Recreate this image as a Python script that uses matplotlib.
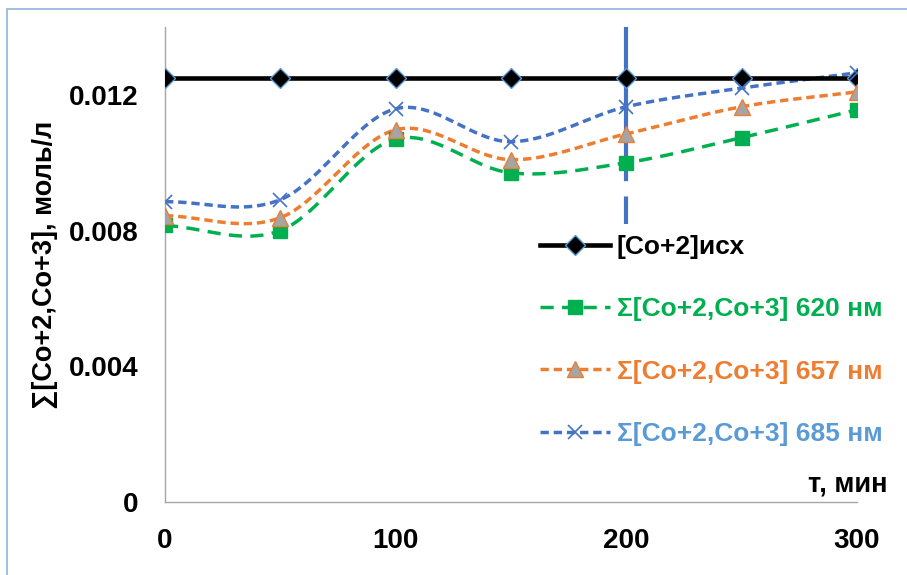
import matplotlib
matplotlib.use("Agg")
import matplotlib.pyplot as plt
import numpy as np
from matplotlib.patches import Rectangle

plt.rcParams['font.family'] = ['Liberation Sans', 'DejaVu Sans']
plt.rcParams['font.weight'] = 'bold'
plt.rcParams['lines.scale_dashes'] = False

# time, min
t = [0, 50, 100, 150, 200, 250, 300]

# concentrations, mol/l
co_init = [0.0125, 0.0125, 0.0125, 0.0125, 0.0125, 0.0125, 0.0125]
sum_620 = [0.00815, 0.00800, 0.01070, 0.00970, 0.01000, 0.01074, 0.01156]
sum_657 = [0.00844, 0.00838, 0.01097, 0.01009, 0.01085, 0.01165, 0.01209]
sum_685 = [0.00885, 0.00891, 0.01159, 0.01062, 0.01165, 0.01220, 0.01265]

labels = ['[Co+2]исх', 'Σ[Co+2,Co+3] 620 нм', 'Σ[Co+2,Co+3] 657 нм', 'Σ[Co+2,Co+3] 685 нм']
text_colors = ['black', '#00B050', '#ED7D31', '#5B9BD5']


def smooth(x, y, n=40):
    # catmull-rom curve through the points, like excel "smoothed line"
    x = np.asarray(x, float)
    y = np.asarray(y, float)
    px = np.concatenate([[2 * x[0] - x[1]], x, [2 * x[-1] - x[-2]]])
    py = np.concatenate([[2 * y[0] - y[1]], y, [2 * y[-1] - y[-2]]])
    xs, ys = [], []
    s = np.linspace(0, 1, n)
    for i in range(1, len(px) - 2):
        for p, out in ((px, xs), (py, ys)):
            p0, p1, p2, p3 = p[i - 1], p[i], p[i + 1], p[i + 2]
            out.extend(0.5 * (2 * p1 + (-p0 + p2) * s
                              + (2 * p0 - 5 * p1 + 4 * p2 - p3) * s ** 2
                              + (-p0 + 3 * p1 - 3 * p2 + p3) * s ** 3))
    return xs, ys


fig = plt.figure(figsize=(9.07, 5.75), dpi=100)
ax = fig.add_axes([165 / 907, 1 - 502 / 575, 692 / 907, 475 / 575])

# vertical marker line at 200 min
ax.plot([200, 200], [0.014, 0.0082], color='#4472C4', lw=3, dashes=(111, 11), zorder=1)

ax.plot(t, co_init, color='black', lw=3.3, marker='D', ms=10.5, mfc='black',
        mec='#5B9BD5', mew=1, label=labels[0], zorder=3)

xs, ys = smooth(t, sum_620)
ax.plot(xs, ys, color='#00B050', lw=2.5, dashes=(9.5, 6), zorder=2)
ax.plot(t, sum_620, ls='none', marker='s', ms=10, color='#00B050', zorder=4)

xs, ys = smooth(t, sum_657)
ax.plot(xs, ys, color='#ED7D31', lw=2.5, dashes=(6, 3.5), zorder=2)
ax.plot(t, sum_657, ls='none', marker='^', ms=11, mfc='#A5A5A5', mec='#ED7D31',
        mew=1, zorder=4)

xs, ys = smooth(t, sum_685)
ax.plot(xs, ys, color='#4472C4', lw=2.5, dashes=(6, 3.5), zorder=2)
ax.plot(t, sum_685, ls='none', marker='x', ms=9.5, mew=1.2, color='#4472C4', zorder=4)

# legend handles
h1, = ax.plot([], [], color='black', lw=3.3, marker='D', ms=10.5, mfc='black', mec='#5B9BD5', mew=1)
h2, = ax.plot([], [], color='#00B050', lw=2.5, dashes=(9.5, 6), marker='s', ms=10)
h3, = ax.plot([], [], color='#ED7D31', lw=2.5, dashes=(6, 3.5), marker='^', ms=11,
              mfc='#A5A5A5', mec='#ED7D31', mew=1)
h4, = ax.plot([], [], color='#4472C4', lw=2.5, dashes=(6, 3.5), marker='x', ms=9.5, mew=1.2)
leg = ax.legend([h1, h2, h3, h4], labels, loc='upper left',
                bbox_to_anchor=(540 / 907, 1 - 235 / 575), bbox_transform=fig.transFigure,
                frameon=False, fontsize=19, handlelength=2.65, handletextpad=0.26,
                labelspacing=1.45, borderpad=0, borderaxespad=0, markerscale=1)
for txt, c in zip(leg.get_texts(), text_colors):
    txt.set_color(c)
    txt.set_fontweight('bold')

ax.set_xlim(0, 300)
ax.set_ylim(0, 0.014)
ax.set_xticks([0, 100, 200, 300])
ax.set_yticks([0, 0.004, 0.008, 0.012])
ax.set_yticklabels(['0', '0.004', '0.008', '0.012'])
ax.tick_params(length=0, labelsize=20, pad=19)
ax.tick_params(axis='x', pad=19)
for lab in ax.get_xticklabels() + ax.get_yticklabels():
    lab.set_fontweight('bold')

for side in ('top', 'right'):
    ax.spines[side].set_visible(False)
for side in ('left', 'bottom'):
    ax.spines[side].set_color('#A6A6A6')
    ax.spines[side].set_linewidth(1)

fig.text(45 / 907, 1 - 265 / 575, '∑[Co+2,Co+3], моль/л', rotation=90,
         ha='center', va='center', fontsize=19.5, fontweight='bold')
fig.text(888 / 907, 1 - 485 / 575, 'т, мин', ha='right', va='center',
         fontsize=19.5, fontweight='bold')

# chart area border
fig.patches.append(Rectangle((7 / 907, -0.1), 1.2, 1 - 9 / 575 + 0.1, transform=fig.transFigure,
                             fill=False, edgecolor='#8FB4DE', lw=1.2))

fig.savefig('out.png', dpi=100)
